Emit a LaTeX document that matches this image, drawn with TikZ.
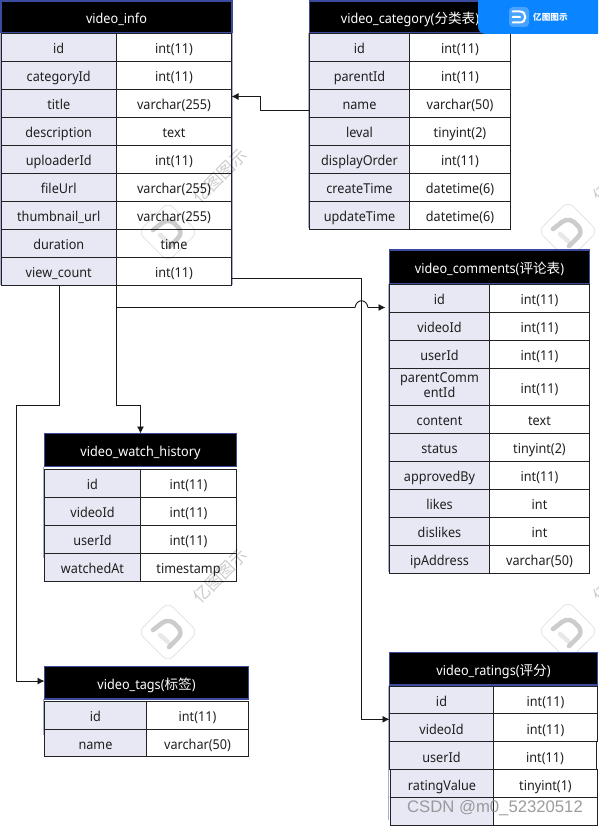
\documentclass[tikz,border=0pt]{standalone}
\usepackage{fontspec}
\setmainfont{Noto Sans}[FakeStretch=0.93]
\newfontfamily\cjkf{Noto Sans CJK SC}
\newfontfamily\arialf{Liberation Sans}
\usetikzlibrary{arrows.meta}
\definecolor{hdrline}{HTML}{3A4A9F}
\definecolor{leftfill}{HTML}{E8E8F4}
\definecolor{cellline}{HTML}{222222}
\definecolor{bannerblue}{HTML}{0A84FF}
\tikzset{
  cellbase/.style={draw=cellline,line width=0.9pt,inner sep=0pt,outer sep=0pt,
    text height=15.6pt,text depth=2.4pt,
    text=black!88,font=\fontsize{13.6}{15.5}\selectfont},
  leftcell/.style={cellbase,fill=leftfill},
  rightcell/.style={cellbase,fill=white},
  headcell/.style={draw=hdrline,line width=1.1pt,fill=black,text=white,inner sep=0pt,outer sep=0pt,
    text height=15.6pt,text depth=2.4pt,font=\fontsize{13.6}{15.5}\selectfont},
  conn/.style={draw=black!90,line width=0.9pt},
  arrowed/.style={conn,-{Latex[length=7pt,width=7pt]}},
  bodyedge/.style={draw=hdrline!45,line width=0.9pt},
  wmtext/.style={text=black,text opacity=0.2,rotate=45,inner sep=0pt,font=\cjkf\fontsize{17}{19}\selectfont},
  wmframe/.style={draw=black,draw opacity=0.11,line width=0.8pt,rounded corners=7pt,rotate=45,minimum size=42pt,inner sep=0pt},
  wmstroke/.style={draw=black,draw opacity=0.2,line cap=round,line join=round,line width=4.6pt},
  wmbar/.style={draw=black,draw opacity=0.09,line cap=round,line width=4.6pt},
}
\newcommand{\parentcell}{\smash{\raisebox{-4.4pt}{\vbox{\hsize=94pt\baselineskip=15pt\centerline{parentComm}\centerline{entId}}}}}
% name, x-left, x-right, y-top, y-bottom, text
\newcommand{\hdr}[6]{%
  \pgfmathsetmacro{\myw}{#3-#2}\pgfmathsetmacro{\myh}{#5-#4}%
  \node[headcell,minimum width=\myw pt,minimum height=\myh pt] (#1) at ({(#2+#3)/2},{(#4+#5)/2}) {#6};}
% name, x-left, x-mid, x-right, y-top, y-bottom, left text, right text
\newcommand{\rw}[8]{%
  \pgfmathsetmacro{\mywl}{#3-#2}\pgfmathsetmacro{\mywr}{#4-#3}\pgfmathsetmacro{\myh}{#6-#5}%
  \node[leftcell,minimum width=\mywl pt,minimum height=\myh pt] (#1-l) at ({(#2+#3)/2},{(#5+#6)/2}) {#7};
  \node[rightcell,minimum width=\mywr pt,minimum height=\myh pt] (#1-r) at ({(#3+#4)/2},{(#5+#6)/2}) {#8};}
\newcommand{\watermark}[4]{%
  \node[wmframe] (#1) at (#2,#3) {};
  \begin{scope}[shift={(#2,#3)}]
    \draw[wmstroke] (-15,-2) -- (-6,-9) .. controls (-1,-13) and (5,-11) .. (9,-6)
       .. controls (14,-1) and (13,3) .. (10,6) -- (1,15);
    \draw[wmbar] (-8,3) -- (0,10);
  \end{scope}
  #4}
\begin{document}
\begin{tikzpicture}[x=1pt,y=-1pt]
\useasboundingbox (0,0) rectangle (598,826);
\fill[white] (0,0) rectangle (598,826);

% video_info
\hdr{info}{1}{232}{1}{33}{video\_info}
\foreach \i/\a/\b [count=\n from 0] in {1/id/int(11),2/categoryId/int(11),3/title/varchar(255),4/description/text,5/uploaderId/int(11),6/fileUrl/varchar(255),7/thumbnail\_url/varchar(255),8/duration/time,9/view\_count/int(11)}{
  \pgfmathsetmacro{\ya}{33+28*\n}\pgfmathsetmacro{\yb}{\ya+28}
  \rw{info\i}{1}{116.5}{231.5}{\ya}{\yb}{\a}{\b}
}
% video_category
\hdr{cat}{309.5}{510.5}{1}{33}{video\_category({\cjkf 分类表})}
\foreach \i/\a/\b [count=\n from 0] in {1/id/int(11),2/parentId/int(11),3/name/varchar(50),4/leval/tinyint(2),5/displayOrder/int(11),6/createTime/datetime(6),7/updateTime/datetime(6)}{
  \pgfmathsetmacro{\ya}{33+28*\n}\pgfmathsetmacro{\yb}{\ya+28}
  \rw{cat\i}{309.5}{409.5}{510.5}{\ya}{\yb}{\a}{\b}
}
% video_comments
\hdr{com}{389.5}{589.5}{250}{283.5}{video\_comments({\cjkf 评论表})}
\foreach \i/\a/\b/\ya/\yb in {1/id/int(11)/284/312,2/videoId/int(11)/312/340,3/userId/int(11)/340/368,4/\parentcell/int(11)/368/405,5/content/text/405/433,6/status/tinyint(2)/433/461,7/approvedBy/int(11)/461/489,8/likes/int/489/517,9/dislikes/int/517/545,10/ipAddress/varchar(50)/545/573}{
  \rw{com\i}{389.5}{489.5}{589.5}{\ya}{\yb}{\a}{\b}
}
% video_watch_history
\hdr{hist}{44.5}{236.5}{433.5}{466.5}{video\_watch\_history}
\foreach \i/\a/\b [count=\n from 0] in {1/id/int(11),2/videoId/int(11),3/userId/int(11),4/watchedAt/timestamp}{
  \pgfmathsetmacro{\ya}{469+28*\n}\pgfmathsetmacro{\yb}{\ya+28}
  \rw{hist\i}{44.5}{140.5}{236.5}{\ya}{\yb}{\a}{\b}
}
% video_tags
\hdr{tags}{44.5}{248.5}{666.5}{699}{video\_tags({\cjkf 标签})}
\rw{tags1}{44.5}{146.5}{248.5}{701}{729}{id}{int(11)}
\rw{tags2}{44.5}{146.5}{248.5}{729}{756.5}{name}{varchar(50)}
% video_ratings
\hdr{rat}{389.5}{597.5}{652.5}{685}{video\_ratings({\cjkf 评分})}
\rw{rat1}{389.5}{493.5}{597.5}{686}{713.5}{id}{int(11)}
\rw{rat2}{389.5}{493.5}{597.5}{713.5}{741.5}{videoId}{int(11)}
\rw{rat3}{389.5}{493.5}{596.5}{741.5}{769.5}{userId}{int(11)}
\rw{rat4}{390.5}{493.5}{597.5}{769.5}{797.5}{ratingValue}{tinyint(1)}
\rw{rat5}{390.5}{493.5}{597.5}{797.5}{825.5}{}{}

% faint blue edges of the table bodies
\draw[bodyedge] (232.4,33) -- (232.4,285);
\draw[bodyedge] (0.4,33) -- (0.4,285);
\draw[bodyedge] (308.6,33) -- (308.6,228);
\draw[bodyedge] (388.6,284) -- (388.6,572);
\draw[bodyedge] (43.6,467) -- (43.6,558);
\draw[bodyedge] (43.6,699) -- (43.6,735);
\draw[bodyedge] (388.6,686) -- (388.6,820);

% connectors
\coordinate (catturn) at (260,110.5);
\draw[arrowed] ([yshift=-7.5pt]cat3-l.west) -- (catturn) |- ([yshift=6.5pt]info3-r.east);
\coordinate (viewturn) at (361.5,278);
\draw[arrowed] ([yshift=-7pt]info9-r.east) -- (viewturn) |- ([yshift=8.2pt]rat2-l.west);
\coordinate (histturn) at (116.5,405);
\draw[arrowed] (info9-l.south east) -- (histturn) -| (hist.north);
\coordinate (combranch) at (116.5,307.5);
\coordinate (bumpa) at (355,307.5);
\coordinate (bumpb) at (368,307.5);
\draw[conn] (combranch) -- (bumpa) .. controls (356.5,298.5) and (366.5,298.5) .. (bumpb);
\coordinate (comtip) at (385.5,307.5);
\draw[arrowed] (bumpb) -- (comtip);
\coordinate (tagsa) at (59.5,405.5);
\coordinate (tagsb) at (16.5,405.5);
\draw[conn] ([xshift=0.75pt]info9-l.south) -- (tagsa);
\draw[arrowed] (tagsa) -- (tagsb) |- ([yshift=1.7pt]tags.west);

% watermark
\watermark{wma}{168}{232}{\node[wmtext] (wmta) at (220,176) {亿图图示};}
\watermark{wmb}{568}{231}{\node[wmtext] (wmtb) at (620,175) {亿图图示};}
\watermark{wmc}{168}{632}{\node[wmtext] (wmtc) at (220,576) {亿图图示};}
\watermark{wmd}{568}{631}{\node[wmtext] (wmtd) at (620,575) {亿图图示};}

% banner
\fill[bannerblue] (478,0) -- (598,0) -- (598,34) -- (486,34) .. controls (481,34) and (478,31) .. (478,26) -- cycle;
\node[fill=white!25!bannerblue,rounded corners=4pt,minimum size=20pt,inner sep=0pt] (bannerlogo) at (519,17) {};
\draw[white,line width=2pt,line cap=round] (512.5,11.5) -- (520,11.5) .. controls (527,11.5) and (527,22.5) .. (520,22.5) -- (512.5,22.5) (512.5,17) -- (520,17);
\node[text=white,inner sep=0pt,anchor=west,font=\cjkf\bfseries\fontsize{8.6}{10}\selectfont] (bannertext) at (533,17) {亿图图示};

% site mark
\node[text=black!45,opacity=0.85,inner sep=0pt,font=\arialf\fontsize{16.7}{18}\selectfont] (csdn) at (495,808) {CSDN @m0\_52320512};
\end{tikzpicture}
\end{document}
